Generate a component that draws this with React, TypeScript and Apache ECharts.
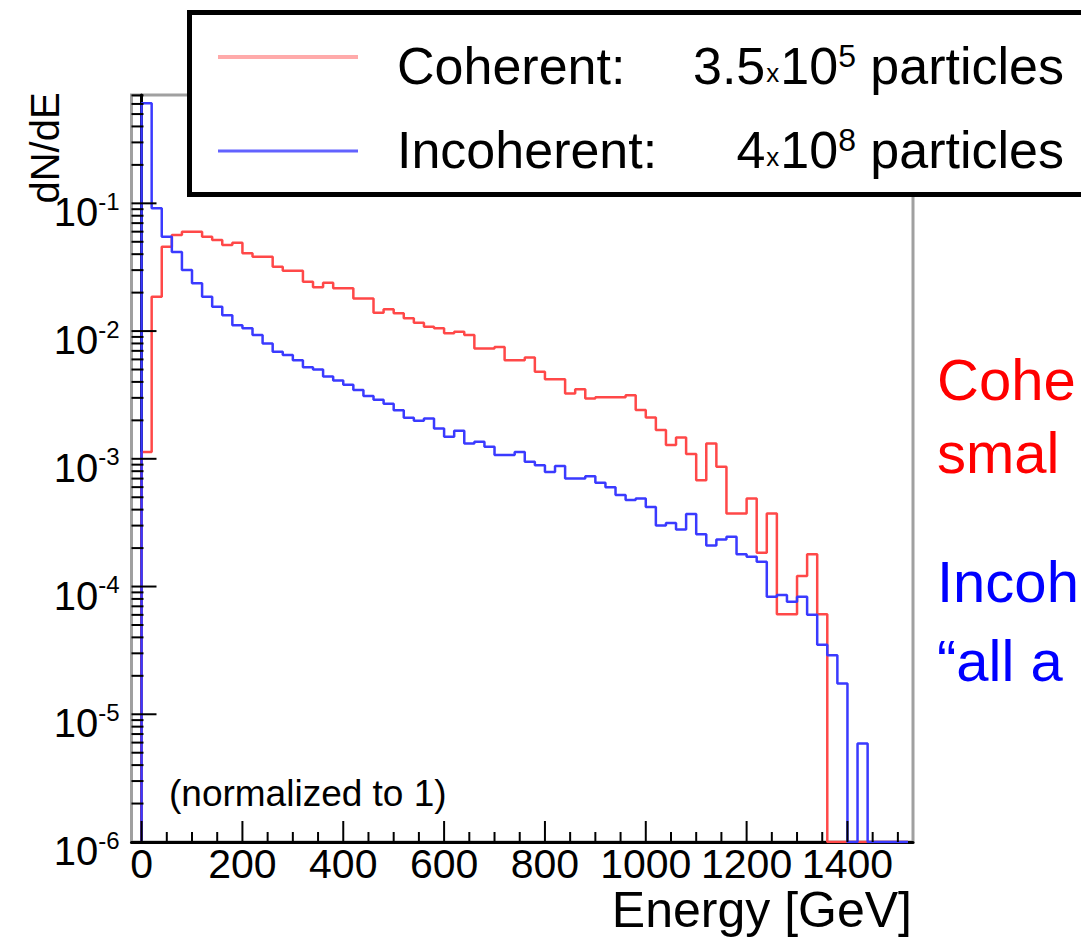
import React, { useEffect, useRef } from "react";
import * as echarts from "echarts";

// ---------------- data ----------------
const BIN_WIDTH_GEV = 20; // histogram bin width, bins start at 0 GeV

// dN/dE per bin (0 = empty bin)
const coherentValues = [
  1.13e-3, 0.0186, 0.0457, 0.0565, 0.06, 0.06, 0.0547, 0.0516, 0.0471, 0.0491,
  0.0406, 0.0382, 0.0382, 0.0319, 0.0297, 0.0297, 0.0243, 0.022, 0.0239, 0.0216,
  0.0216, 0.018, 0.018, 0.0139, 0.0148, 0.0138, 0.0126, 0.0116, 0.0108, 0.0105,
  0.0096, 0.0099, 0.0093, 0.0073, 0.0073, 0.0075, 0.0059, 0.0059, 0.0062, 0.0048,
  0.0042, 0.0042, 0.00325, 0.0035, 0.00297, 0.00303, 0.00303, 0.00303, 0.00315, 0.00241,
  0.00211, 0.00168, 0.00128, 0.00147, 0.00109, 6.8e-4, 1.32e-3, 8.65e-4, 3.73e-4, 3.73e-4,
  4.9e-4, 1.84e-4, 3.73e-4, 6.08e-5, 6.08e-5, 1.21e-4, 1.79e-4, 6.08e-5, 0, 0,
  0, 0, 0, 0, 0, 0,
];

const incoherentValues = [
  0.607, 0.0914, 0.0547, 0.0416, 0.0301, 0.0237, 0.0186, 0.0155, 0.0133, 0.0111,
  0.0105, 0.0093, 0.008, 0.0069, 0.0065, 0.0059, 0.0052, 0.005, 0.0044, 0.0041,
  0.0038, 0.00345, 0.0031, 0.0029, 0.0027, 0.0024, 0.0021, 0.00199, 0.00207, 0.00173,
  0.00149, 0.00166, 0.00132, 0.00136, 0.00124, 0.00107, 0.00107, 0.00113, 9.5e-4, 8.9e-4,
  7.9e-4, 8.8e-4, 7.0e-4, 7.0e-4, 7.3e-4, 6.5e-4, 6.0e-4, 5.2e-4, 4.75e-4, 4.9e-4,
  4.2e-4, 3.0e-4, 3.15e-4, 2.8e-4, 3.7e-4, 2.57e-4, 2.1e-4, 2.34e-4, 2.45e-4, 1.79e-4,
  1.71e-4, 1.56e-4, 8.3e-5, 8.6e-5, 7.6e-5, 8.3e-5, 6.0e-5, 3.5e-5, 2.9e-5, 1.74e-5,
  0, 5.9e-6, 0, 0, 0, 0,
];

const xTickLabels = [0, 200, 400, 600, 800, 1000, 1200, 1400];
const xMinorTicks = [50, 100, 150, 250, 300, 350, 450, 500, 550, 650, 700, 750, 850, 900, 950, 1050, 1100, 1150, 1250, 1300, 1350, 1450, 1500];
const yDecades = [1e-6, 1e-5, 1e-4, 1e-3, 1e-2, 1e-1];
const yMinorMultipliers = [2, 3, 4, 5, 6, 7, 8, 9];

const X_MIN = -20;
const X_MAX = 1530;
const Y_MIN = 1e-6;
const Y_MAX = 0.705;

const seriesNames = ["Coherent", "Incoherent"];
const legendCounts = [
  "{n|3.5}{x|x}{n|10}{sup|5}{n| particles}",
  "{n|4}{x|x}{n|10}{sup|8}{n| particles}",
];
// side texts are cut by the right edge of the slide; only their visible part is kept
const sideTexts = [
  { text: "Cohe", color: "#ff0000" },
  { text: "smal", color: "#ff0000" },
  { text: "Incoh", color: "#0000ff" },
  { text: "\u201call a", color: "#0000ff" },
];

// ---------------- helpers ----------------
const FONT = "'Liberation Sans', Arial, Helvetica, sans-serif";

function toSteps(values: number[]) {
  // empty bins are drawn on the bottom of the frame, as ROOT does
  const pts: number[][] = [[0, Y_MIN]];
  values.forEach((v, i) => pts.push([i * BIN_WIDTH_GEV, v > 0 ? v : Y_MIN]));
  const last = values[values.length - 1];
  pts.push([values.length * BIN_WIDTH_GEV, last > 0 ? last : Y_MIN]);
  return pts;
}

function yTickData() {
  const out: number[][] = [];
  yDecades.forEach((d) => {
    out.push([X_MIN, d, 25]);
    yMinorMultipliers.forEach((m) => {
      const v = m * d;
      if (v < Y_MAX) out.push([X_MIN, v, 12]);
    });
  });
  return out;
}

function xTickData() {
  const out: number[][] = [];
  xTickLabels.forEach((x) => out.push([x, Y_MIN, 21]));
  xMinorTicks.forEach((x) => out.push([x, Y_MIN, 10]));
  return out;
}

export default function App() {
  const ref = useRef<HTMLDivElement>(null);

  useEffect(() => {
    if (!ref.current) return;
    const chart = echarts.init(ref.current, null, { renderer: "svg" });

    const option: any = {
      animation: false,
      backgroundColor: "#ffffff",
      grid: {
        left: 131.5,
        top: 95,
        right: 168,
        bottom: 95,
        show: true,
        borderColor: "#a0a0a0",
        borderWidth: 3,
        backgroundColor: "transparent",
        containLabel: false,
        outerBoundsMode: "none",
      },
      xAxis: {
        type: "value",
        min: X_MIN,
        max: X_MAX,
        axisLine: { show: true, lineStyle: { color: "#000", width: 3 } },
        axisTick: { show: false },
        splitLine: { show: false },
        axisLabel: {
          customValues: xTickLabels,
          formatter: (v: number) => String(v),
          hideOverlap: false,
          showMinLabel: true,
          showMaxLabel: true,
          color: "#000",
          fontSize: 41,
          fontFamily: FONT,
          margin: 1,
        },
      },
      yAxis: {
        type: "log",
        logBase: 10,
        min: Y_MIN,
        max: Y_MAX,
        axisLine: { show: true, lineStyle: { color: "#000", width: 3 } },
        axisTick: { show: false },
        splitLine: { show: false },
        axisLabel: {
          margin: 12,
          padding: [18, 0, 0, 0],
          formatter: (v: number) => {
            const e = Math.log10(v);
            if (Math.abs(e - Math.round(e)) > 1e-6) return "";
            return `{b|10}{s|${Math.round(e)}}`;
          },
          rich: {
            b: { fontSize: 40, lineHeight: 46, fontFamily: FONT, color: "#000" },
            s: { fontSize: 24, verticalAlign: "top", fontFamily: FONT, color: "#000" },
          },
        },
      },
      series: [
        {
          name: seriesNames[0],
          type: "line",
          step: "end",
          symbol: "none",
          data: toSteps(coherentValues),
          lineStyle: { color: "#ff4848", width: 2.5 },
          itemStyle: { color: "#ff4848" },
          clip: true,
          z: 3,
        },
        {
          name: seriesNames[1],
          type: "line",
          step: "end",
          symbol: "none",
          data: toSteps(incoherentValues),
          lineStyle: { color: "#3a3aff", width: 2.5 },
          itemStyle: { color: "#3a3aff" },
          clip: true,
          z: 4,
        },
        {
          type: "custom",
          silent: true,
          clip: false,
          data: yTickData(),
          renderItem: (params: any, api: any) => {
            const p = api.coord([api.value(0), api.value(1)]);
            const len = api.value(2);
            return {
              type: "line",
              shape: { x1: p[0], y1: p[1], x2: p[0] + len, y2: p[1] },
              style: { stroke: "#000", lineWidth: 2 },
            };
          },
          z: 5,
        },
        {
          type: "custom",
          silent: true,
          clip: false,
          data: xTickData(),
          renderItem: (params: any, api: any) => {
            const p = api.coord([api.value(0), api.value(1)]);
            const len = api.value(2);
            return {
              type: "line",
              shape: { x1: p[0], y1: p[1], x2: p[0], y2: p[1] - len },
              style: { stroke: "#000", lineWidth: 2 },
            };
          },
          z: 5,
        },
      ],
      graphic: [
        {
          type: "text",
          x: 45,
          y: 148,
          rotation: Math.PI / 2,
          style: {
            text: "dN/dE",
            fontSize: 40,
            fontFamily: FONT,
            fill: "#000",
            align: "center",
            verticalAlign: "middle",
          },
        },
        {
          type: "text",
          x: 912,
          y: 910,
          style: {
            text: "Energy [GeV]",
            fontSize: 50,
            fontFamily: FONT,
            fill: "#000",
            align: "right",
            verticalAlign: "middle",
          },
        },
        {
          type: "text",
          x: 169,
          y: 793,
          style: {
            text: "(normalized to 1)",
            fontSize: 37,
            fontFamily: FONT,
            fill: "#000",
            align: "left",
            verticalAlign: "middle",
          },
        },
        // legend box
        {
          type: "group",
          z: 100,
          children: [
            {
              type: "rect",
              shape: { x: 189.5, y: 12.5, width: 960, height: 182 },
              style: { fill: "#fff", stroke: "#000", lineWidth: 5 },
            },
            {
              type: "line",
              shape: { x1: 218, y1: 57, x2: 358, y2: 57 },
              style: { stroke: "#ffaaaa", lineWidth: 4 },
            },
            {
              type: "line",
              shape: { x1: 218, y1: 151, x2: 358, y2: 151 },
              style: { stroke: "#6262ff", lineWidth: 3 },
            },
            {
              type: "text",
              x: 397,
              y: 66,
              style: {
                text: seriesNames[0] + ":",
                fontSize: 52,
                fontFamily: FONT,
                fill: "#000",
                align: "left",
                verticalAlign: "middle",
              },
            },
            {
              type: "text",
              x: 397,
              y: 150,
              style: {
                text: seriesNames[1] + ":",
                fontSize: 52,
                fontFamily: FONT,
                fill: "#000",
                align: "left",
                verticalAlign: "middle",
              },
            },
            ...legendCounts.map((t, i) => ({
              type: "text",
              x: 1064,
              y: i === 0 ? 66 : 150,
              style: {
                text: t,
                align: "right",
                verticalAlign: "middle",
                fill: "#000",
                rich: {
                  n: { fontSize: 52, lineHeight: 52, fontFamily: FONT, color: "#000" },
                  x: { fontSize: 26, verticalAlign: "bottom", fontFamily: FONT, color: "#000", padding: [0, 1, 6, 1] },
                  sup: { fontSize: 32, verticalAlign: "top", fontFamily: FONT, color: "#000" },
                },
              },
            })),
          ],
        },
        ...sideTexts.map((t, i) => ({
          type: "text",
          x: 937,
          y: [379, 452, 581, 660][i],
          style: {
            text: t.text,
            fontSize: 58,
            fontFamily: FONT,
            fill: t.color,
            align: "left",
            verticalAlign: "middle",
          },
        })),
      ],
    };

    chart.setOption(option);
    return () => chart.dispose();
  }, []);

  return (
    <div
      ref={ref}
      style={{ position: "fixed", left: 0, top: 0, width: 1081, height: 937, background: "#fff" }}
    />
  );
}
